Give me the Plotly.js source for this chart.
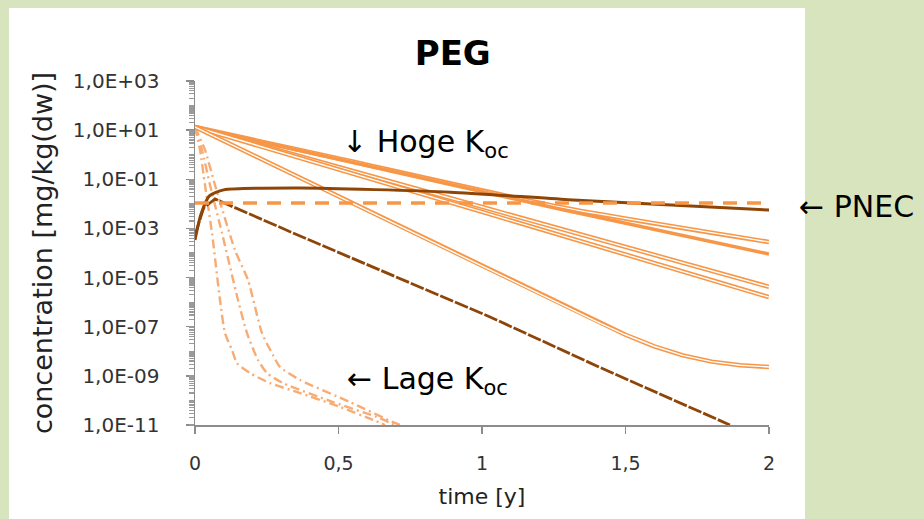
<!DOCTYPE html>
<html><head><meta charset="utf-8">
<script src="https://cdn.plot.ly/plotly-3.0.1.min.js"></script>
<style>body{margin:0;background:#D7E4BD}</style>
</head><body>
<div id="chart" style="width:924px;height:519px"></div>
<script>
// ---- data (time in years, concentration in mg/kg dw) ----
const tA = [0, 0.5, 1.27, 2];
const vA = [13.4, 0.7, 0.0075, 2.8e-4];
const tB = [0, 1.27, 2];
const vB = [13.4, 0.0062, 9.1e-5];
const tC = [0, 1, 2];
const vC = [13.4, 0.0075, 4.2e-6];
const tD = [0, 1, 2];
const vD = [13.4, 0.0047, 1.6e-6];
const tE = [0, 0.366, 1.411, 1.5, 1.6, 1.7, 1.8, 1.9, 2];
const vE = [13.4, 0.113, 1.4e-7, 4.7e-8, 1.6e-8, 6.8e-9, 3.8e-9, 2.7e-9, 2.3e-9];

const tF = [0, 0.02, 0.05, 0.1, 0.37, 0.89, 1.3, 2];
const vF = [3.4e-4, 3.5e-3, 0.021, 0.037, 0.044, 0.030, 0.0148, 0.0056];
const tG = [0, 0.03, 0.07, 0.366, 1.028, 1.411, 1.864];
const vG = [5.4e-4, 6.8e-3, 0.0158, 4.9e-4, 2.5e-7, 2.2e-9, 1.0e-11];

const tPNEC = [0, 2];
const vPNEC = [0.0108, 0.0108];

const tL1 = [0, 0.0174, 0.0348, 0.0592, 0.0871, 0.1045, 0.1289, 0.1463, 0.1916, 0.2613, 0.3659, 0.5052, 0.6202, 0.662];
const vL1 = [13.4, 1.56, 0.0585, 6.5e-4, 1.22e-6, 5.5e-8, 1.13e-8, 3.3e-9, 1.3e-9, 5.1e-10, 2.0e-10, 5.4e-11, 1.6e-11, 1.0e-11];
const tL2 = [0, 0.0244, 0.0523, 0.0941, 0.1498, 0.1812, 0.2195, 0.2509, 0.3066, 0.4808, 0.6341, 0.6969];
const vL2 = [13.4, 1.56, 0.0585, 6.5e-4, 1.22e-6, 5.5e-8, 4.4e-9, 1.3e-9, 5.1e-10, 8.6e-11, 2.1e-11, 1.0e-11];
const tL3 = [0, 0.0348, 0.0697, 0.1394, 0.1847, 0.2334, 0.2718, 0.2962, 0.3659, 0.5401, 0.6899, 0.7143];
const vL3 = [13.4, 1.56, 0.0585, 1.3e-4, 7.9e-6, 5.5e-8, 7.0e-9, 2.3e-9, 6.8e-10, 8.6e-11, 1.3e-11, 1.0e-11];

const xTickVals = [0, 0.5, 1, 1.5, 2];
const xTickText = ["0", "0,5", "1", "1,5", "2"];
const yTickVals = [1e3, 1e1, 1e-1, 1e-3, 1e-5, 1e-7, 1e-9, 1e-11];
const yTickText = ["1,0E+03", "1,0E+01", "1,0E-01", "1,0E-03", "1,0E-05", "1,0E-07", "1,0E-09", "1,0E-11"];

// ---- styling ----
const ORANGE = '#F79646', BROWN = '#8E4508', LIGHT = '#F8AC74';

function line(x, y, color, width, dash, shape, smoothing) {
  return {x: x, y: y, type: 'scatter', mode: 'lines', hoverinfo: 'skip',
    line: {color: color, width: width, dash: dash || 'solid', shape: shape || 'linear',
           smoothing: smoothing || 0.6}};
}
function doubleLine(x, y, shape, smoothing) {
  return [line(x, y, ORANGE, 4.5, 'solid', shape, smoothing),
          line(x, y, '#FFFFFF', 1.4, 'solid', shape, smoothing)];
}

const traces = [
  line(tL1, vL1, LIGHT, 2.4, '9px,4px,2px,4px', 'spline', 0.6),
  line(tL2, vL2, LIGHT, 2.4, '9px,4px,2px,4px', 'spline', 0.6),
  line(tL3, vL3, LIGHT, 2.4, '9px,4px,2px,4px', 'spline', 0.6),
  ...doubleLine(tA, vA, 'spline', 0.6),
  line(tB, vB, ORANGE, 3.5, 'solid', 'spline', 0.6),
  ...doubleLine(tC, vC, 'spline', 0.6),
  ...doubleLine(tD, vD, 'spline', 0.6),
  ...doubleLine(tE, vE, 'linear'),
  line(tF, vF, BROWN, 3, 'solid', 'spline', 0.6),
  line(tG, vG, BROWN, 2.8, '14px,2px', 'linear'),
  line(tPNEC, vPNEC, ORANGE, 3.5, '14px,10px'),
  // empty trace so the minor-tick overlay axis is laid out
  {x: [], y: [], type: 'scatter', mode: 'lines', yaxis: 'y2', hoverinfo: 'skip'}
];

const minorVals = [];
for (let n = -11; n <= 2; n++) {
  for (let j = 1; j <= 9; j++) minorVals.push(j * Math.pow(10, n));
}

const axisGrey = '#8C8C8C';
const layout = {
  width: 924, height: 519,
  paper_bgcolor: '#D7E4BD', plot_bgcolor: '#FFFFFF',
  margin: {l: 195, r: 155, t: 81, b: 94},
  showlegend: false,
  font: {family: 'DejaVu Sans', color: '#333333'},
  title: {text: '<b>PEG</b>', x: 0.49, xref: 'container', xanchor: 'center',
          y: 0.898, yref: 'container', yanchor: 'middle',
          font: {family: 'DejaVu Sans', size: 34, color: '#000000'}},
  xaxis: {range: [0, 2], tickmode: 'array', tickvals: xTickVals, ticktext: xTickText,
          showline: true, linecolor: axisGrey, linewidth: 1.5, ticks: 'outside', ticklen: 7,
          tickcolor: axisGrey, tickwidth: 1.5, showgrid: false, zeroline: false,
          tickfont: {size: 19, color: '#333333'}, ticklabelstandoff: 14,
          title: {text: 'time [y]', font: {size: 22, color: '#222222'}, standoff: 15}},
  yaxis: {type: 'log', range: [-11, 3], tickmode: 'array', tickvals: yTickVals, ticktext: yTickText,
          showline: true, linecolor: axisGrey, linewidth: 1.5, ticks: 'outside', ticklen: 8,
          tickcolor: axisGrey, tickwidth: 1.5, showgrid: false, zeroline: false,
          tickfont: {size: 20, color: '#333333'}, ticklabelstandoff: 22,
          title: {text: 'concentration [mg/kg(dw)]', font: {size: 27, color: '#222222'}, standoff: 12}},
  yaxis2: {type: 'log', range: [-11, 3], overlaying: 'y', side: 'left', anchor: 'x',
           tickmode: 'array', tickvals: minorVals, showticklabels: false,
           ticks: 'outside', ticklen: 5, tickcolor: '#9A9A9A', tickwidth: 1.2,
           showline: false, showgrid: false, zeroline: false},
  shapes: [{type: 'rect', xref: 'paper', yref: 'paper', x0: -0.324, x1: 1.0627, y0: -0.273, y1: 1.212,
            fillcolor: '#FFFFFF', line: {width: 0}, layer: 'below'}],
  annotations: [
    {text: '↓ Hoge K<sub>oc</sub>', xref: 'paper', yref: 'paper', x: 0.2526, y: 0.818,
     xanchor: 'left', yanchor: 'middle', showarrow: false, font: {size: 30, color: '#000000'}},
    {text: '← Lage K<sub>oc</sub>', xref: 'paper', yref: 'paper', x: 0.261, y: 0.13,
     xanchor: 'left', yanchor: 'middle', showarrow: false, font: {size: 30, color: '#000000'}},
    {text: '← PNEC', xref: 'paper', yref: 'paper', x: 1.0488, y: 0.634,
     xanchor: 'left', yanchor: 'middle', showarrow: false, font: {size: 30, color: '#000000'}}
  ]
};

Plotly.newPlot('chart', traces, layout, {staticPlot: true, displayModeBar: false});
</script>
</body></html>
